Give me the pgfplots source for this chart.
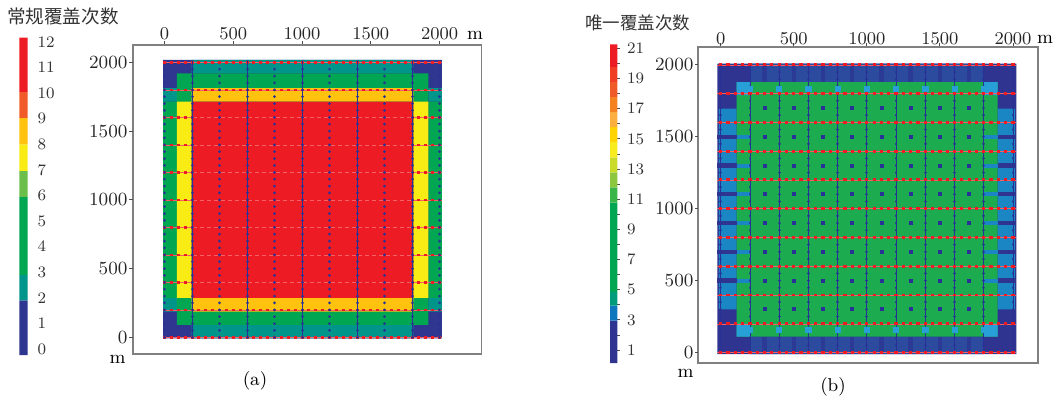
\documentclass[border=0pt]{standalone}
\usepackage{pgfplots}
\pgfplotsset{compat=1.18}
\usepackage{fontspec}
\newfontfamily\cjk{Noto Sans CJK SC}

% colours (a)
\definecolor{aBlue}{RGB}{46,54,143}
\definecolor{aTeal}{RGB}{0,149,138}
\definecolor{aGreen}{RGB}{0,166,81}
\definecolor{aLGreen}{RGB}{108,190,74}
\definecolor{aYellow}{RGB}{248,236,20}
\definecolor{aOrange}{RGB}{255,194,14}
\definecolor{aOrRed}{RGB}{241,90,41}
\definecolor{aRed}{RGB}{237,28,36}
% colours (b)
\definecolor{bDark}{RGB}{46,52,143}
\definecolor{bBand}{RGB}{44,74,158}
\definecolor{bStripe}{RGB}{43,58,148}
\definecolor{bMid}{RGB}{26,134,196}
\definecolor{bBlue}{RGB}{14,118,188}
\definecolor{bLight}{RGB}{39,160,216}
\definecolor{bTeal}{RGB}{0,155,122}
\definecolor{bGreenH}{RGB}{28,171,78}
\definecolor{bGreen}{RGB}{0,166,81}
\definecolor{bG2}{RGB}{57,181,74}
\definecolor{bG3}{RGB}{141,198,63}
\definecolor{bYG}{RGB}{203,219,42}
\definecolor{bY1}{RGB}{248,236,31}
\definecolor{bY2}{RGB}{255,212,0}
\definecolor{bOr1}{RGB}{251,175,63}
\definecolor{bOr2}{RGB}{245,130,32}
\definecolor{bOr3}{RGB}{240,90,40}
\definecolor{bR2}{RGB}{239,62,37}
\definecolor{bRed}{RGB}{237,28,36}
\definecolor{frameC}{RGB}{128,128,128}
\definecolor{srcC}{RGB}{40,50,150}
\definecolor{recC}{RGB}{237,28,36}

\newcommand{\cell}[5]{\addplot[fill=#1,draw=none] coordinates {(#2,#3) (#4,#3) (#4,#5) (#2,#5) (#2,#3)};}
% y tick and its label on a frame: #1 frame x, #2 y position (pt), #3 tick length, #4 text
\newcommand{\ylab}[4]{\draw[black!70, line width=0.5pt] (#1,#2) -- ++(-#3,0pt);
  \node[anchor=east, inner sep=0pt, font=\fontsize{9.3}{10}\selectfont, text=black!85] at ([xshift=-#3-0.6pt]#1,#2) {#4};}

\pgfplotsset{foldmap/.style={anchor=south west, scale only axis,
  axis line style={draw=frameC, line width=0.9pt},
  tick align=outside, major tick length=2pt,
  tick style={black!70, line width=0.5pt},
  xtick={0,500,1000,1500,2000}, ytick=\empty,
  xtick pos=right, xticklabel pos=right,
  /pgf/number format/1000 sep={},
  ticklabel style={font=\fontsize{9.3}{10}\selectfont, text=black!85}}}

\begin{document}
\begin{tikzpicture}[x=1pt,y=1pt]
\useasboundingbox (0,0) rectangle (529.5,201);

% ================= fold map (a)
\begin{axis}[foldmap, at={(66.5pt,24pt)},
  width=174.25pt, height=154.5pt,
  xmin=-229, xmax=2305, ymin=-121, ymax=2126,
  xticklabel style={yshift=-3pt}]
% fold bands
\cell{aBlue}{-10}{-8}{2017}{2017}
\cell{aTeal}{197}{1920}{1810}{2017}
\cell{aTeal}{197}{-8}{1810}{90}
\cell{aTeal}{-10}{1715}{90}{1812}
\cell{aTeal}{-10}{188}{90}{287}
\cell{aTeal}{1918}{1715}{2017}{1812}
\cell{aTeal}{1918}{188}{2017}{287}
\cell{aGreen}{90}{90}{1918}{1920}
\cell{aGreen}{-10}{287}{90}{1715}
\cell{aGreen}{1918}{287}{2017}{1715}
\cell{aOrange}{197}{1715}{1810}{1812}
\cell{aOrange}{197}{188}{1810}{287}
\cell{aYellow}{90}{287}{197}{1715}
\cell{aYellow}{1810}{287}{1918}{1715}
\cell{aRed}{197}{287}{1810}{1715}
% receiver lines (thin)
\addplot[recC!70, line width=0.2pt, unbounded coords=jump] coordinates {
(-10,0) (2017,0) (nan,nan) (-10,200) (2017,200) (nan,nan) (-10,400) (2017,400) (nan,nan)
(-10,600) (2017,600) (nan,nan) (-10,800) (2017,800) (nan,nan) (-10,1000) (2017,1000) (nan,nan)
(-10,1200) (2017,1200) (nan,nan) (-10,1400) (2017,1400) (nan,nan) (-10,1600) (2017,1600) (nan,nan)
(-10,1800) (2017,1800) (nan,nan) (-10,2000) (2017,2000)};
% receiver points every 50 m
\addplot[recC, line width=1.3pt, dash pattern=on 1.5pt off 1.938pt, unbounded coords=jump] coordinates {
(-10.9,0) (2010.9,0) (nan,nan) (-10.9,200) (2010.9,200) (nan,nan) (-10.9,400) (2010.9,400) (nan,nan)
(-10.9,600) (2010.9,600) (nan,nan) (-10.9,800) (2010.9,800) (nan,nan) (-10.9,1000) (2010.9,1000) (nan,nan)
(-10.9,1200) (2010.9,1200) (nan,nan) (-10.9,1400) (2010.9,1400) (nan,nan) (-10.9,1600) (2010.9,1600) (nan,nan)
(-10.9,1800) (2010.9,1800) (nan,nan) (-10.9,2000) (2010.9,2000)};
% source lines (thin)
\addplot[srcC, line width=0.45pt, unbounded coords=jump] coordinates {
(200,-8) (200,2017) (nan,nan) (600,-8) (600,2017) (nan,nan) (1000,-8) (1000,2017) (nan,nan)
(1400,-8) (1400,2017) (nan,nan) (1800,-8) (1800,2017)};
% source points every 50 m
\addplot[srcC, line width=1.5pt, line cap=round, dash pattern=on 0.01pt off 3.428pt, unbounded coords=jump] coordinates {
(0,0) (0,2000) (nan,nan) (200,0) (200,2000) (nan,nan) (400,0) (400,2000) (nan,nan)
(600,0) (600,2000) (nan,nan) (800,0) (800,2000) (nan,nan) (1000,0) (1000,2000) (nan,nan)
(1200,0) (1200,2000) (nan,nan) (1400,0) (1400,2000) (nan,nan) (1600,0) (1600,2000) (nan,nan)
(1800,0) (1800,2000) (nan,nan) (2000,0) (2000,2000)};
\end{axis}

% ================= fold map (b)
\begin{axis}[foldmap, at={(349pt,19.65pt)},
  width=170pt, height=157.7pt,
  xmin=-155, xmax=2171, ymin=-71, ymax=2122,
  xticklabel style={yshift=-4pt}]
\cell{bDark}{-23}{-12}{2023}{2008}
\cell{bBand}{200}{1880}{1800}{2008}
\cell{bBand}{200}{-12}{1800}{110}
\cell{bMid}{-12}{300}{109}{1695}
\cell{bMid}{1895}{300}{2012}{1695}
\cell{bGreenH}{109}{110}{1895}{1880}
\cell{bLight}{109}{1790}{200}{1880}
\cell{bLight}{1800}{1790}{1895}{1880}
\cell{bLight}{109}{110}{200}{200}
\cell{bLight}{1800}{110}{1895}{200}
% stripes in the edge bands
\addplot[bDark, line width=2.15pt, unbounded coords=jump] coordinates {
(-23,500) (109,500) (nan,nan) (-23,700) (109,700) (nan,nan) (-23,900) (109,900) (nan,nan)
(-23,1100) (109,1100) (nan,nan) (-23,1300) (109,1300) (nan,nan) (-23,1500) (109,1500) (nan,nan)
(1895,500) (2023,500) (nan,nan) (1895,700) (2023,700) (nan,nan) (1895,900) (2023,900) (nan,nan)
(1895,1100) (2023,1100) (nan,nan) (1895,1300) (2023,1300) (nan,nan) (1895,1500) (2023,1500)};
\addplot[bMid, line width=2pt, unbounded coords=jump] coordinates {
(109,500) (200,500) (nan,nan) (109,700) (200,700) (nan,nan) (109,900) (200,900) (nan,nan)
(109,1100) (200,1100) (nan,nan) (109,1300) (200,1300) (nan,nan) (109,1500) (200,1500) (nan,nan)
(1800,500) (1895,500) (nan,nan) (1800,700) (1895,700) (nan,nan) (1800,900) (1895,900) (nan,nan)
(1800,1100) (1895,1100) (nan,nan) (1800,1300) (1895,1300) (nan,nan) (1800,1500) (1895,1500)};
\addplot[bStripe, line width=2.2pt, unbounded coords=jump] coordinates {
(300,1880) (300,2008) (nan,nan) (500,1880) (500,2008) (nan,nan) (700,1880) (700,2008) (nan,nan)
(900,1880) (900,2008) (nan,nan) (1100,1880) (1100,2008) (nan,nan) (1300,1880) (1300,2008) (nan,nan)
(1500,1880) (1500,2008) (nan,nan) (1700,1880) (1700,2008) (nan,nan)
(300,-12) (300,110) (nan,nan) (500,-12) (500,110) (nan,nan) (700,-12) (700,110) (nan,nan)
(900,-12) (900,110) (nan,nan) (1100,-12) (1100,110) (nan,nan) (1300,-12) (1300,110) (nan,nan)
(1500,-12) (1500,110) (nan,nan) (1700,-12) (1700,110)};
% light patches near the top and bottom receiver lines
\addplot[only marks, mark=square*, mark size=1.3pt, color=bLight] coordinates {
(200,1835) (400,1835) (600,1835) (800,1835) (1000,1835) (1200,1835) (1400,1835) (1600,1835) (1800,1835)
(200,155) (400,155) (600,155) (800,155) (1000,155) (1200,155) (1400,155) (1600,155) (1800,155)};
% isolated source points between lines
\addplot[only marks, mark=square*, mark size=0.75pt, color=srcC] coordinates {
(300,300) (500,300) (700,300) (900,300) (1100,300) (1300,300) (1500,300) (1700,300)
(300,500) (500,500) (700,500) (900,500) (1100,500) (1300,500) (1500,500) (1700,500)
(300,700) (500,700) (700,700) (900,700) (1100,700) (1300,700) (1500,700) (1700,700)
(300,900) (500,900) (700,900) (900,900) (1100,900) (1300,900) (1500,900) (1700,900)
(300,1100) (500,1100) (700,1100) (900,1100) (1100,1100) (1300,1100) (1500,1100) (1700,1100)
(300,1300) (500,1300) (700,1300) (900,1300) (1100,1300) (1300,1300) (1500,1300) (1700,1300)
(300,1500) (500,1500) (700,1500) (900,1500) (1100,1500) (1300,1500) (1500,1500) (1700,1500)
(300,1700) (500,1700) (700,1700) (900,1700) (1100,1700) (1300,1700) (1500,1700) (1700,1700)};
% source lines
\addplot[srcC, line width=0.4pt, unbounded coords=jump] coordinates {
(0,-12) (0,2008) (nan,nan) (200,-12) (200,2008) (nan,nan) (400,-12) (400,2008) (nan,nan)
(600,-12) (600,2008) (nan,nan) (800,-12) (800,2008) (nan,nan) (1000,-12) (1000,2008) (nan,nan)
(1200,-12) (1200,2008) (nan,nan) (1400,-12) (1400,2008) (nan,nan) (1600,-12) (1600,2008) (nan,nan)
(1800,-12) (1800,2008) (nan,nan) (2000,-12) (2000,2008)};
\addplot[srcC, line width=1.4pt, line cap=round, dash pattern=on 0.01pt off 3.5856pt, unbounded coords=jump] coordinates {
(0,0) (0,2000) (nan,nan) (200,0) (200,2000) (nan,nan) (400,0) (400,2000) (nan,nan)
(600,0) (600,2000) (nan,nan) (800,0) (800,2000) (nan,nan) (1000,0) (1000,2000) (nan,nan)
(1200,0) (1200,2000) (nan,nan) (1400,0) (1400,2000) (nan,nan) (1600,0) (1600,2000) (nan,nan)
(1800,0) (1800,2000) (nan,nan) (2000,0) (2000,2000)};
% receiver lines
\addplot[recC!70, line width=0.2pt, unbounded coords=jump] coordinates {
(-23,0) (2023,0) (nan,nan) (-23,200) (2023,200) (nan,nan) (-23,400) (2023,400) (nan,nan)
(-23,600) (2023,600) (nan,nan) (-23,800) (2023,800) (nan,nan) (-23,1000) (2023,1000) (nan,nan)
(-23,1200) (2023,1200) (nan,nan) (-23,1400) (2023,1400) (nan,nan) (-23,1600) (2023,1600) (nan,nan)
(-23,1800) (2023,1800) (nan,nan) (-23,2000) (2023,2000)};
\addplot[recC, line width=1.45pt, dash pattern=on 1.6pt off 2.0543pt, unbounded coords=jump] coordinates {
(-10.9,0) (2010.9,0) (nan,nan) (-10.9,200) (2010.9,200) (nan,nan) (-10.9,400) (2010.9,400) (nan,nan)
(-10.9,600) (2010.9,600) (nan,nan) (-10.9,800) (2010.9,800) (nan,nan) (-10.9,1000) (2010.9,1000) (nan,nan)
(-10.9,1200) (2010.9,1200) (nan,nan) (-10.9,1400) (2010.9,1400) (nan,nan) (-10.9,1600) (2010.9,1600) (nan,nan)
(-10.9,1800) (2010.9,1800) (nan,nan) (-10.9,2000) (2010.9,2000)};
\end{axis}

% ================= colour bar (a)
\begin{axis}[at={(9.65pt,23.5pt)}, anchor=south west, scale only axis,
  width=4.2pt, height=158.65pt, xmin=0, xmax=1, ymin=-0.23, ymax=12.17,
  axis x line=none, axis y line*=right, axis line style={draw=none},
  ytick={0,1,...,12}, major tick length=0pt,
  yticklabel style={font=\fontsize{8}{9}\selectfont, text=black!80, xshift=1.4pt},
  clip=false]
\cell{aBlue}{0}{-0.23}{1}{1.9}
\cell{aTeal}{0}{1.9}{1}{2.9}
\cell{aGreen}{0}{2.9}{1}{5.95}
\cell{aLGreen}{0}{5.95}{1}{6.97}
\cell{aYellow}{0}{6.97}{1}{8}
\cell{aOrange}{0}{8}{1}{9.04}
\cell{aOrRed}{0}{9.04}{1}{10.05}
\cell{aRed}{0}{10.05}{1}{12.17}
\end{axis}

% ================= colour bar (b)
\begin{axis}[at={(305pt,19.5pt)}, anchor=south west, scale only axis,
  width=3.65pt, height=159.35pt, xmin=0, xmax=1, ymin=0.14, ymax=21.27,
  axis x line=none, axis y line*=right, axis line style={draw=none},
  ytick={1,3,...,21}, minor ytick={2,4,...,20},
  tick align=outside, major tick length=1.4pt, minor tick length=1.4pt,
  tick style={black!70, line width=0.4pt},
  yticklabel style={font=\fontsize{8.3}{9}\selectfont, text=black!80},
  clip=false]
\cell{bDark}{0}{0.14}{1}{2.95}
\cell{bBlue}{0}{2.95}{1}{3.95}
\cell{bTeal}{0}{3.95}{1}{4.85}
\cell{bGreen}{0}{4.85}{1}{10.78}
\cell{bG2}{0}{10.78}{1}{11.78}
\cell{bG3}{0}{11.78}{1}{12.78}
\cell{bYG}{0}{12.78}{1}{13.78}
\cell{bY1}{0}{13.78}{1}{14.78}
\cell{bY2}{0}{14.78}{1}{15.78}
\cell{bOr1}{0}{15.78}{1}{16.78}
\cell{bOr2}{0}{16.78}{1}{17.78}
\cell{bOr3}{0}{17.78}{1}{18.78}
\cell{bR2}{0}{18.78}{1}{19.78}
\cell{bRed}{0}{19.78}{1}{21.27}
\end{axis}

% ================= y tick labels on the left frames
\ylab{66.5}{32.32}{2pt}{0}
\ylab{66.5}{66.70}{2pt}{500}
\ylab{66.5}{101.08}{2pt}{1000}
\ylab{66.5}{135.46}{2pt}{1500}
\ylab{66.5}{169.84}{2pt}{2000}
\ylab{349}{24.76}{1.5pt}{0}
\ylab{349}{60.71}{1.5pt}{500}
\ylab{349}{96.67}{1.5pt}{1000}
\ylab{349}{132.62}{1.5pt}{1500}
\ylab{349}{168.58}{1.5pt}{2000}

% ================= texts
\node[anchor=west, inner sep=0pt, font=\cjk\fontsize{9.3}{10}\selectfont, text=black!80] at (3.3,192.65) {常规覆盖次数};
\node[anchor=west, inner sep=0pt, font=\cjk\fontsize{8.75}{10}\selectfont, text=black!80] at (292.5,189.75) {唯一覆盖次数};
\node[anchor=base, inner sep=0pt, font=\fontsize{9.3}{10}\selectfont] at (237.5,181.25) {m};
\node[anchor=base, inner sep=0pt, font=\fontsize{9.3}{10}\selectfont] at (58.75,19.35) {m};
\node[anchor=base, inner sep=0pt, font=\fontsize{9.3}{10}\selectfont] at (522.5,179.25) {m};
\node[anchor=base, inner sep=0pt, font=\fontsize{9.3}{10}\selectfont] at (342.75,12.5) {m};
\node[inner sep=0pt, font=\fontsize{9.3}{10}\selectfont] at (127.5,10.5) {(a)};
\node[inner sep=0pt, font=\fontsize{9.3}{10}\selectfont] at (416.5,7.5) {(b)};
\end{tikzpicture}
\end{document}
